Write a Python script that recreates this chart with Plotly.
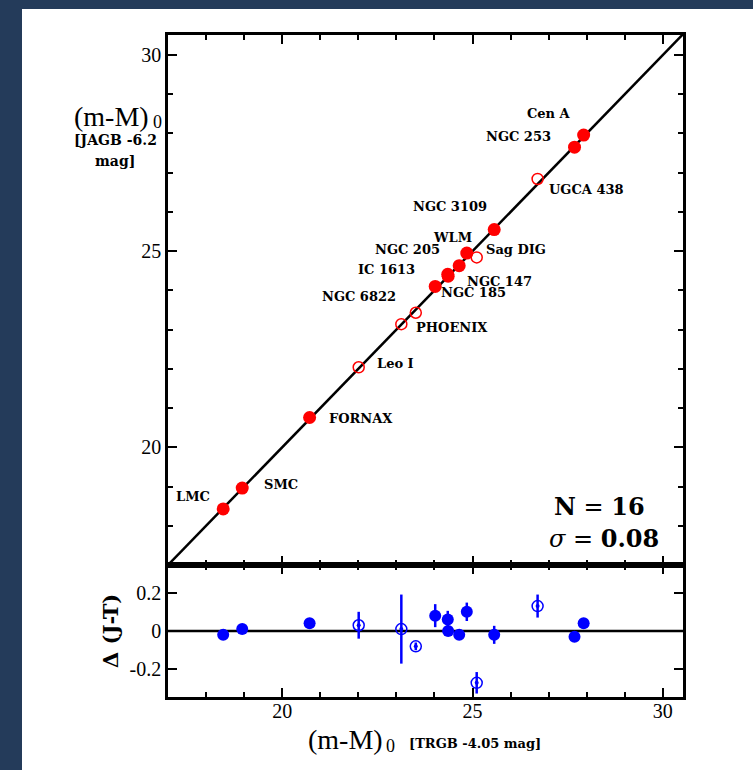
import plotly.graph_objects as go

# ---------------- data ----------------
names = ["LMC", "SMC", "FORNAX", "Leo I", "PHOENIX", "NGC 6822", "NGC 185",
         "IC 1613", "NGC 205", "NGC 147", "WLM", "Sag DIG", "NGC 3109",
         "UGCA 438", "NGC 253", "Cen A"]
trgb = [18.45, 18.95, 20.72, 22.01, 23.13, 23.51, 24.02, 24.35, 24.36, 24.65,
        24.85, 25.11, 25.57, 26.71, 27.68, 27.92]
jagb = [18.43, 18.96, 20.76, 22.04, 23.14, 23.43, 24.10, 24.41, 24.36, 24.63,
        24.95, 24.84, 25.55, 26.84, 27.65, 27.96]
delta = [-0.02, 0.01, 0.04, 0.03, 0.01, -0.08, 0.08, 0.06, 0.00, -0.02,
         0.10, -0.27, -0.02, 0.13, -0.03, 0.04]
delta_err = [0.02, 0.02, 0.02, 0.07, 0.18, 0.02, 0.06, 0.045, 0.02, 0.02,
             0.048, 0.056, 0.047, 0.06, 0.02, 0.02]
is_open = [False, False, False, True, True, True, False, False, False, False,
           False, True, False, True, False, False]
x_ticks = [20, 25, 30]
y_ticks = [20, 25, 30]
d_ticks = [-0.2, 0, 0.2]
d_ticktext = ["-0.2", "0", "0.2"]
n_gal = 16
sigma = 0.08

# ---------------- style ----------------
XR = [17, 30.53]
YR = [17, 30.51]
DR = [-0.344, 0.344]
RED = "#ff0000"
BLUE = "#0000ff"
NAVY = "#243b5a"
SERIF = "Liberation Serif"
BOLD = "DejaVu Serif"

# label centres (data units)
label_pos = {
    "Cen A": (27.02, 28.52), "NGC 253": (26.21, 27.93), "UGCA 438": (28.0, 26.56),
    "NGC 3109": (24.41, 26.15), "WLM": (24.47, 25.36), "NGC 205": (23.29, 25.03),
    "Sag DIG": (26.14, 25.03), "IC 1613": (22.74, 24.52), "NGC 147": (25.70, 24.23),
    "NGC 185": (25.02, 23.95), "NGC 6822": (22.02, 23.84), "PHOENIX": (24.47, 23.05),
    "Leo I": (22.98, 22.13), "FORNAX": (22.06, 20.74), "SMC": (19.96, 19.04),
    "LMC": (17.66, 18.75),
}

fig = go.Figure()

def pick(arr, want_open):
    return [v for v, o in zip(arr, is_open) if o == want_open]

# diagonal one-to-one line
fig.add_trace(go.Scatter(x=XR, y=XR, mode="lines", line=dict(color="black", width=2.5),
                         xaxis="x", yaxis="y", hoverinfo="skip", showlegend=False))
# top panel points
fig.add_trace(go.Scatter(x=pick(trgb, False), y=pick(jagb, False), mode="markers",
                         marker=dict(color=RED, size=13, line=dict(width=0)),
                         xaxis="x", yaxis="y", showlegend=False))
fig.add_trace(go.Scatter(x=pick(trgb, True), y=pick(jagb, True), mode="markers",
                         marker=dict(symbol="circle-open", color=RED, size=11,
                                     line=dict(width=1.5, color=RED)),
                         xaxis="x", yaxis="y", showlegend=False))

# bottom panel zero line
fig.add_trace(go.Scatter(x=XR, y=[0, 0], mode="lines", line=dict(color="black", width=2.5),
                         xaxis="x2", yaxis="y2", hoverinfo="skip", showlegend=False))
# bottom panel points
fig.add_trace(go.Scatter(x=pick(trgb, False), y=pick(delta, False), mode="markers",
                         marker=dict(color=BLUE, size=12, line=dict(width=0)),
                         error_y=dict(type="data", array=pick(delta_err, False),
                                      color=BLUE, thickness=2.5, width=0),
                         xaxis="x2", yaxis="y2", showlegend=False))
fig.add_trace(go.Scatter(x=pick(trgb, True), y=pick(delta, True), mode="markers",
                         marker=dict(symbol="circle-open", color=BLUE, size=11,
                                     line=dict(width=1.5, color=BLUE)),
                         error_y=dict(type="data", array=pick(delta_err, True),
                                      color=BLUE, thickness=2.5, width=0),
                         xaxis="x2", yaxis="y2", showlegend=False))
fig.add_trace(go.Scatter(x=pick(trgb, True), y=pick(delta, True), mode="markers",
                         marker=dict(color=BLUE, size=4, line=dict(width=0)),
                         xaxis="x2", yaxis="y2", showlegend=False))

# labels
for nm in names:
    lx, ly = label_pos[nm]
    fig.add_annotation(x=lx, y=ly, xref="x", yref="y", text="<b>%s</b>" % nm,
                       showarrow=False, xanchor="center", yanchor="middle",
                       font=dict(family=BOLD, size=13, color="black"))

L, R, T, B = 168, 70, 35, 73
W, H = 753, 770
pw, ph = W - L - R, H - T - B
def px(xpix):
    return (xpix - L) / pw
def py(ypix):
    return (H - B - ypix) / ph

split = py(565)

def txt(x, y, s, size, family=SERIF, angle=0):
    fig.add_annotation(x=px(x), y=py(y), xref="paper", yref="paper", text=s,
                       showarrow=False, xanchor="center", yanchor="middle",
                       textangle=angle, font=dict(family=family, size=size, color="black"))

# y title (top)
txt(111, 116, "(m-M)", 28)
txt(157, 122, "0", 18)
txt(115, 140, "<b>[JAGB -6.2</b>", 14, BOLD)
txt(115, 161, "<b>mag]</b>", 14, BOLD)
# x title
txt(345, 739, "(m-M)", 28)
txt(390, 746, "0", 18)
txt(475, 743, "<b>[TRGB -4.05 mag]</b>", 13, BOLD)
# y title (bottom)
txt(110, 631, "<b>Δ (J-T)</b>", 21, BOLD, angle=-90)
# stats
txt(599, 506, "<b>N</b> = <b>%d</b>" % n_gal, 24, BOLD)
txt(604, 538, "<i>σ</i> = <b>%.2f</b>" % sigma, 24, BOLD)

axis_common = dict(showline=True, linewidth=2.5, linecolor="black", mirror="allticks",
                   ticks="inside", ticklen=9, tickwidth=2, tickcolor="black",
                   showgrid=False, zeroline=False,
                   tickfont=dict(family=SERIF, size=20, color="black"))
minor_common = dict(dtick=1, tick0=0, ticks="inside", ticklen=5, tickwidth=2,
                    tickcolor="black", showgrid=False)

fig.update_layout(
    width=W, height=H, margin=dict(l=L, r=R, t=T, b=B),
    paper_bgcolor=NAVY, plot_bgcolor="white",
    xaxis=dict(axis_common, range=XR, domain=[0, 1], anchor="y", tickvals=x_ticks,
               showticklabels=False, matches="x2", minor=minor_common),
    yaxis=dict(axis_common, range=YR, domain=[split, 1], anchor="x", tickvals=y_ticks,
               minor=minor_common),
    xaxis2=dict(axis_common, range=XR, domain=[0, 1], anchor="y2", tickvals=x_ticks,
                minor=minor_common, ticklabelstandoff=-6),
    yaxis2=dict(axis_common, range=DR, domain=[0, split], anchor="x2",
                tickvals=d_ticks, ticktext=d_ticktext),
    shapes=[dict(type="rect", xref="paper", yref="paper", layer="below",
                 x0=px(22), x1=px(W + 5), y0=py(H + 5), y1=py(9),
                 fillcolor="white", line=dict(width=0))],
)

fig.write_html("out.html")
